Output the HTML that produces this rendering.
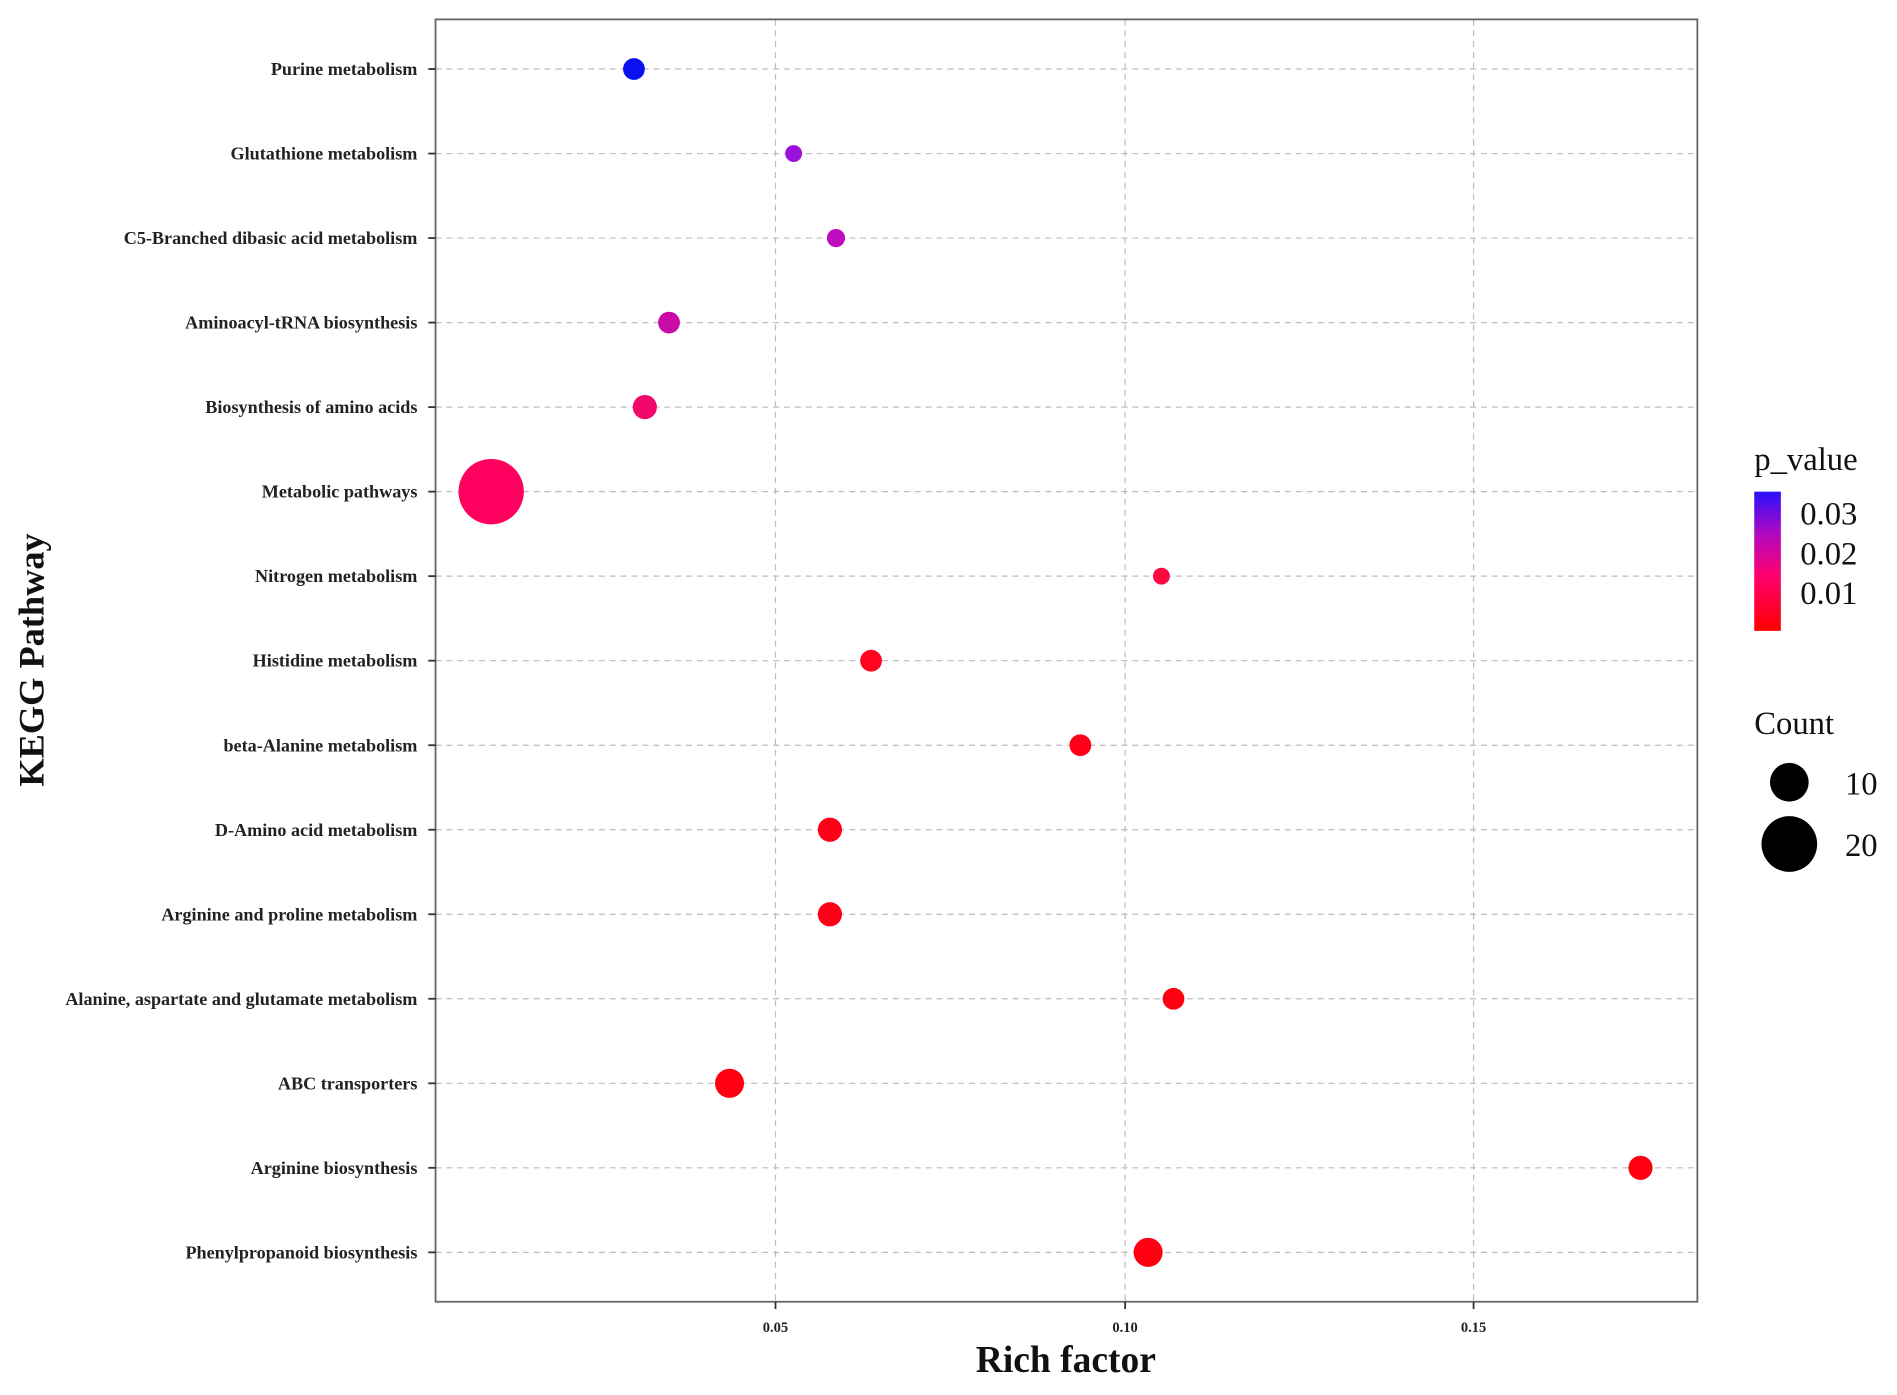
<!DOCTYPE html>
<html><head><meta charset="utf-8"><style>html,body{margin:0;padding:0;background:#fff}svg{display:block}</style></head>
<body>
<svg width="1897" height="1395" viewBox="0 0 1568 1152" preserveAspectRatio="none" xmlns="http://www.w3.org/2000/svg" font-family="Liberation Serif, serif">
<rect x="0" y="0" width="1568" height="1152" fill="#fff"/>
<g stroke="#bdbdbd" stroke-width="1" stroke-dasharray="5,4">
<line x1="641" y1="16" x2="641" y2="1075"/><line x1="930" y1="16" x2="930" y2="1075"/><line x1="1218" y1="16" x2="1218" y2="1075"/>
<line x1="360" x2="1403" y1="57" y2="57"/><line x1="360" x2="1403" y1="126.8" y2="126.8"/><line x1="360" x2="1403" y1="196.6" y2="196.6"/><line x1="360" x2="1403" y1="266.4" y2="266.4"/><line x1="360" x2="1403" y1="336.2" y2="336.2"/><line x1="360" x2="1403" y1="406" y2="406"/><line x1="360" x2="1403" y1="475.8" y2="475.8"/><line x1="360" x2="1403" y1="545.6" y2="545.6"/><line x1="360" x2="1403" y1="615.4" y2="615.4"/><line x1="360" x2="1403" y1="685.2" y2="685.2"/><line x1="360" x2="1403" y1="755" y2="755"/><line x1="360" x2="1403" y1="824.8" y2="824.8"/><line x1="360" x2="1403" y1="894.6" y2="894.6"/><line x1="360" x2="1403" y1="964.4" y2="964.4"/><line x1="360" x2="1403" y1="1034.2" y2="1034.2"/>
</g>
<rect x="360" y="16" width="1043" height="1059" fill="none" stroke="#666" stroke-width="1.5"/>
<g stroke="#333" stroke-width="1.5">
<line x1="354" x2="360" y1="57" y2="57"/><line x1="354" x2="360" y1="126.8" y2="126.8"/><line x1="354" x2="360" y1="196.6" y2="196.6"/><line x1="354" x2="360" y1="266.4" y2="266.4"/><line x1="354" x2="360" y1="336.2" y2="336.2"/><line x1="354" x2="360" y1="406" y2="406"/><line x1="354" x2="360" y1="475.8" y2="475.8"/><line x1="354" x2="360" y1="545.6" y2="545.6"/><line x1="354" x2="360" y1="615.4" y2="615.4"/><line x1="354" x2="360" y1="685.2" y2="685.2"/><line x1="354" x2="360" y1="755" y2="755"/><line x1="354" x2="360" y1="824.8" y2="824.8"/><line x1="354" x2="360" y1="894.6" y2="894.6"/><line x1="354" x2="360" y1="964.4" y2="964.4"/><line x1="354" x2="360" y1="1034.2" y2="1034.2"/>
<line x1="641" x2="641" y1="1075" y2="1081"/><line x1="930" x2="930" y1="1075" y2="1081"/><line x1="1218" x2="1218" y1="1075" y2="1081"/>
</g>
<g font-size="15" font-weight="bold" text-anchor="end" fill="#222">
<text x="345" y="62">Purine metabolism</text>
<text x="345" y="131.8">Glutathione metabolism</text>
<text x="345" y="201.6">C5-Branched dibasic acid metabolism</text>
<text x="345" y="271.4">Aminoacyl-tRNA biosynthesis</text>
<text x="345" y="341.2">Biosynthesis of amino acids</text>
<text x="345" y="411">Metabolic pathways</text>
<text x="345" y="480.8">Nitrogen metabolism</text>
<text x="345" y="550.6">Histidine metabolism</text>
<text x="345" y="620.4">beta-Alanine metabolism</text>
<text x="345" y="690.2">D-Amino acid metabolism</text>
<text x="345" y="760">Arginine and proline metabolism</text>
<text x="345" y="829.8">Alanine, aspartate and glutamate metabolism</text>
<text x="345" y="899.6">ABC transporters</text>
<text x="345" y="969.4">Arginine biosynthesis</text>
<text x="345" y="1039.2">Phenylpropanoid biosynthesis</text>
</g>
<g font-size="12" font-weight="bold" text-anchor="middle" fill="#222">
<text x="641" y="1100">0.05</text><text x="930" y="1100">0.10</text><text x="1218" y="1100">0.15</text>
</g>
<text x="881" y="1133" font-size="31" font-weight="bold" text-anchor="middle" fill="#111">Rich factor</text>
<text transform="translate(36,545) rotate(-90)" font-size="30" font-weight="bold" text-anchor="middle" fill="#111">KEGG Pathway</text>
<circle cx="524" cy="57" r="9" fill="#0a10f0"/>
<circle cx="656" cy="126.8" r="7" fill="#9a12dc"/>
<circle cx="691" cy="196.6" r="7.5" fill="#c00cc0"/>
<circle cx="553" cy="266.4" r="9" fill="#c80aa8"/>
<circle cx="533" cy="336.2" r="10" fill="#f2086a"/>
<circle cx="406" cy="406" r="27" fill="#ff005e"/>
<circle cx="960" cy="475.8" r="7" fill="#ff0a40"/>
<circle cx="720" cy="545.6" r="9" fill="#ff0320"/>
<circle cx="893" cy="615.4" r="9" fill="#ff0018"/>
<circle cx="686" cy="685.2" r="10" fill="#ff0018"/>
<circle cx="686" cy="755" r="10" fill="#ff0018"/>
<circle cx="970" cy="824.8" r="9" fill="#ff0010"/>
<circle cx="603" cy="894.6" r="12" fill="#ff0010"/>
<circle cx="1356" cy="964.4" r="10" fill="#ff0010"/>
<circle cx="949" cy="1034.2" r="12" fill="#ff0010"/>
<defs><linearGradient id="g" x1="0" y1="0" x2="0" y2="1"><stop offset="0" stop-color="#2a10ff"/><stop offset="0.3" stop-color="#b008c0"/><stop offset="0.6" stop-color="#ff0070"/><stop offset="1" stop-color="#ff0000"/></linearGradient></defs>
<text x="1450" y="388" font-size="27" fill="#111">p_value</text>
<rect x="1450" y="406" width="22" height="115" fill="url(#g)"/>
<g font-size="27" fill="#111"><text x="1488" y="433">0.03</text><text x="1488" y="466">0.02</text><text x="1488" y="499">0.01</text>
<text x="1450" y="606">Count</text><text x="1525" y="656">10</text><text x="1525" y="707">20</text></g>
<circle cx="1479" cy="646" r="16" fill="#000"/>
<circle cx="1479" cy="697" r="23" fill="#000"/>
</svg>
</body></html>
